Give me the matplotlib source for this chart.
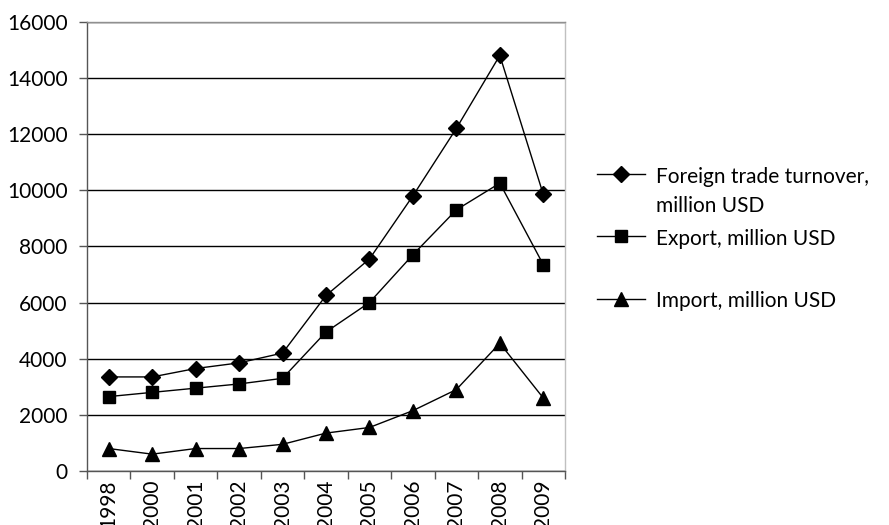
import matplotlib.pyplot as plt
import numpy as np

years = ['1998', '2000', '2001', '2002', '2003', '2004', '2005', '2006', '2007', '2008', '2009']
turnover = [3350, 3350, 3650, 3850, 4200, 6250, 7550, 9800, 12200, 14800, 9850]
export = [2650, 2800, 2950, 3100, 3300, 4950, 6000, 7700, 9300, 10250, 7350]
imports = [800, 600, 800, 800, 950, 1350, 1550, 2150, 2900, 4550, 2600]
labels = ['Foreign trade turnover,\nmillion USD', 'Export, million USD\n', 'Import, million USD']

plt.rcParams['font.family'] = ['Lato', 'DejaVu Sans']
plt.rcParams['font.size'] = 15

fig = plt.figure(figsize=(8.89, 5.25), dpi=100)
ax = fig.add_axes([87/889, 1-471/525, (565-87)/889, (471-21.7)/525])

x = np.arange(len(years))
ax.plot(x, turnover, color='black', lw=1, marker='D', ms=8, label=labels[0])
ax.plot(x, export, color='black', lw=1, marker='s', ms=8.5, label=labels[1])
ax.plot(x, imports, color='black', lw=1, marker='^', ms=10, label=labels[2])

ax.set_xlim(-0.5, len(years)-0.5)
ax.set_ylim(0, 16000)
ax.set_yticks(np.arange(0, 16001, 2000))
ax.yaxis.grid(True, color='black', lw=1)
ax.set_axisbelow(True)

# category ticks sit between the labels, like excel
ax.set_xticks(np.arange(-0.5, len(years), 1))
ax.set_xticklabels([])
ax.set_xticks(x, minor=True)
ax.set_xticklabels(years, minor=True, rotation=90)
ax.tick_params(axis='x', which='minor', length=0, pad=6)
ax.tick_params(axis='x', which='major', length=6, color='#555555', width=1)
ax.tick_params(axis='y', length=6, color='#555555', width=1, pad=8)

ax.spines['left'].set_color('#555555')
ax.spines['bottom'].set_color('#555555')
ax.spines['top'].set_color('#909090')
ax.spines['right'].set_color('#c0c0c0')
for s in ax.spines.values():
    s.set_linewidth(1)

leg = fig.legend(loc='upper left', bbox_to_anchor=(578/889, 1-148/525), frameon=False,
                 handlelength=2.3, handletextpad=0.55, labelspacing=0.65)
for t in leg.get_texts():
    t.set_linespacing(1.55)
# put markers next to the first line of each label
for col in leg._legend_handle_box.get_children():
    for item in col.get_children():
        item.align = 'top'

plt.savefig('out.png', dpi=100)
